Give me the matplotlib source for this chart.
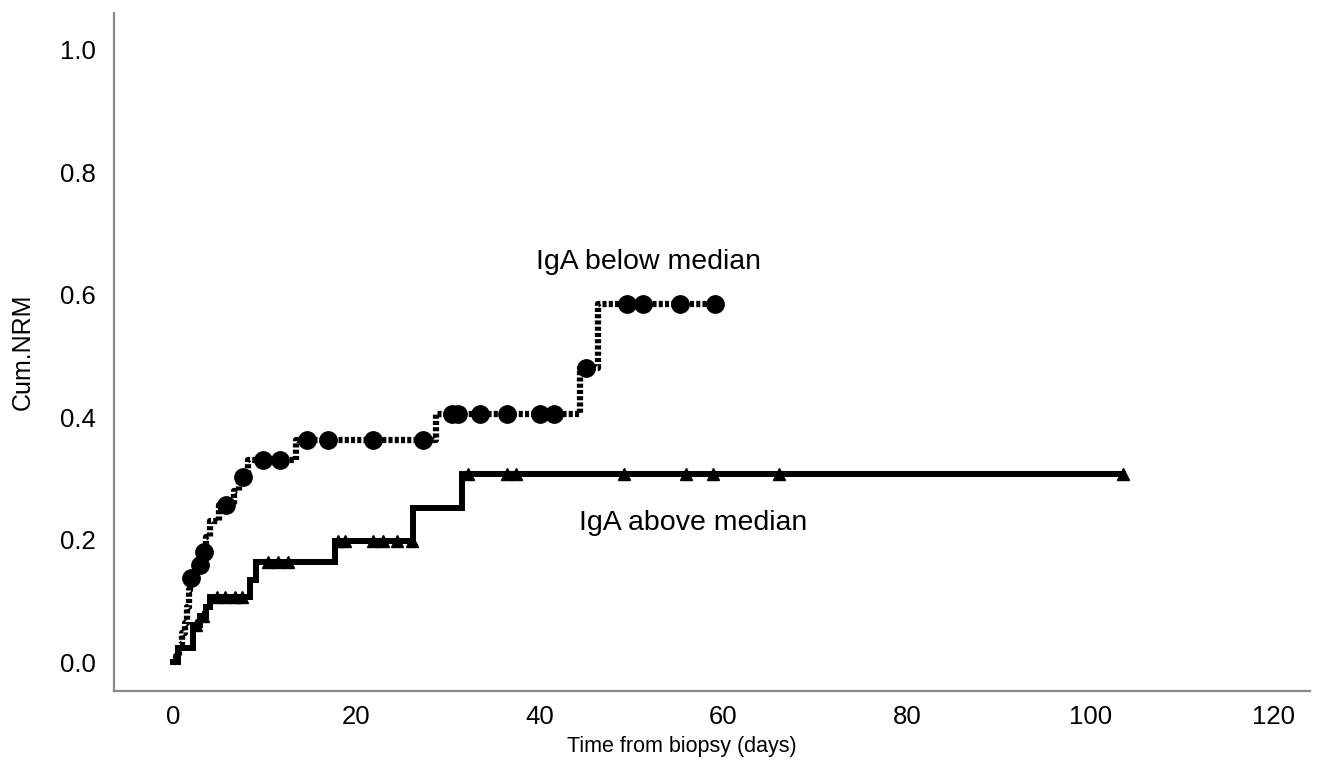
import matplotlib
matplotlib.use("Agg")
import matplotlib.pyplot as plt

plt.rcParams["font.family"] = ["Liberation Sans", "DejaVu Sans"]

# IgA below median: step events (time, cumulative NRM) and censored points
below_t = [0, 0.3, 0.7, 1.0, 1.3, 1.5, 1.7, 1.9, 2.6, 3.2, 3.6, 4.0, 5.0, 6.7, 7.2, 8.2, 13.4, 28.7, 44.4, 46.3, 59.1]
below_y = [0, 0.01, 0.03, 0.047, 0.064, 0.09, 0.118, 0.137, 0.158, 0.18, 0.205, 0.23, 0.257, 0.28, 0.303, 0.33, 0.363, 0.405, 0.48, 0.585, 0.585]
below_cens_t = [2.0, 3.0, 3.4, 5.8, 7.6, 9.8, 11.7, 14.6, 16.9, 21.8, 27.2, 30.4, 31.1, 33.5, 36.4, 40.0, 41.5, 45.0, 49.5, 51.2, 55.3, 59.1]
below_cens_y = [0.137, 0.158, 0.18, 0.257, 0.303, 0.33, 0.33, 0.363, 0.363, 0.363, 0.363, 0.405, 0.405, 0.405, 0.405, 0.405, 0.405, 0.48, 0.585, 0.585, 0.585, 0.585]

# IgA above median
above_t = [0, 0.5, 2.2, 3.0, 3.6, 4.0, 8.4, 9.1, 17.7, 26.2, 31.5, 103.5]
above_y = [0, 0.023, 0.06, 0.075, 0.09, 0.107, 0.135, 0.163, 0.198, 0.252, 0.307, 0.307]
above_cens_t = [2.5, 3.3, 4.8, 5.7, 6.8, 7.5, 10.4, 11.4, 12.5, 18.0, 18.7, 21.8, 22.9, 24.4, 26.0, 32.2, 36.4, 37.4, 49.2, 55.9, 58.9, 66.0, 103.5]
above_cens_y = [0.06, 0.075, 0.107, 0.107, 0.107, 0.107, 0.163, 0.163, 0.163, 0.198, 0.198, 0.198, 0.198, 0.198, 0.198, 0.307, 0.307, 0.307, 0.307, 0.307, 0.307, 0.307, 0.307]

x_ticks = [0, 20, 40, 60, 80, 100, 120]
y_ticks = [0.0, 0.2, 0.4, 0.6, 0.8, 1.0]

fig = plt.figure(figsize=(13.19, 7.68), dpi=100)
ax = fig.add_axes([0.0864, 0.1003, 0.9066, 0.8827])

ax.step(below_t, below_y, where="post", color="black", lw=4.5,
        dashes=(0.65, 0.35), dash_capstyle="butt")
ax.plot(below_cens_t, below_cens_y, "o", color="black", ms=12.5, ls="none")

ax.step(above_t, above_y, where="post", color="black", lw=4.3, solid_joinstyle="miter")
ax.plot(above_cens_t, above_cens_y, "^", color="black", ms=8.5, ls="none")

ax.text(51.8, 0.654, "IgA below median", fontsize=20.5, ha="center", va="center")
ax.text(56.7, 0.227, "IgA above median", fontsize=20.5, ha="center", va="center")

ax.set_xlim(-6.43, 123.9)
ax.set_ylim(-0.047, 1.06)
ax.set_xticks(x_ticks)
ax.set_xticklabels([str(v) for v in x_ticks])
ax.set_yticks(y_ticks)
ax.set_yticklabels(["%.1f" % v for v in y_ticks])
ax.tick_params(length=0, labelsize=18.5, pad=10)
ax.tick_params(axis="y", pad=13)

for s in ["top", "right"]:
    ax.spines[s].set_visible(False)
for s in ["left", "bottom"]:
    ax.spines[s].set_color("#888888")
    ax.spines[s].set_linewidth(1.6)

ax.set_xlabel("Time from biopsy (days)", fontsize=15.5)
ax.xaxis.set_label_coords(0.475, -0.066)
ax.set_ylabel("Cum.NRM", fontsize=18, labelpad=18)

fig.savefig("out.png", dpi=100)
